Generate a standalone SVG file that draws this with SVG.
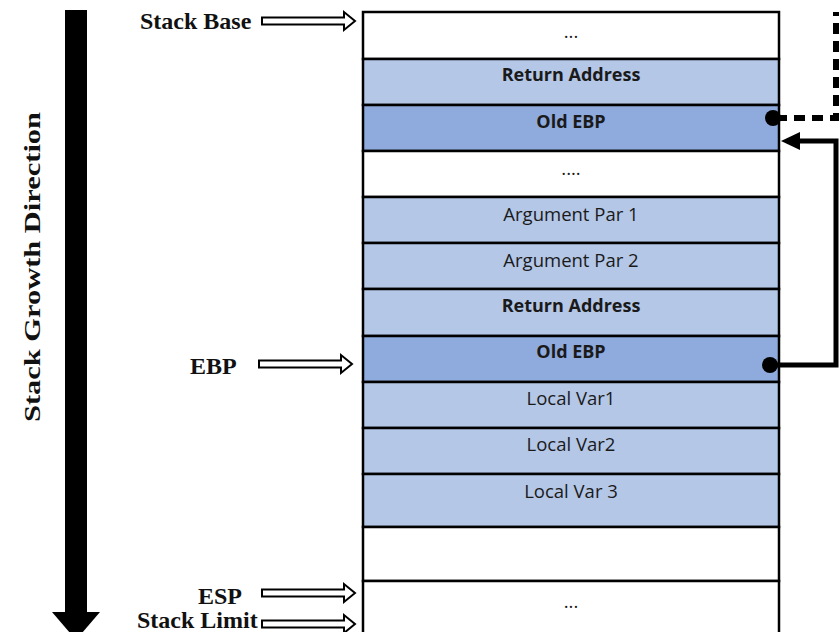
<svg xmlns="http://www.w3.org/2000/svg" width="839" height="632" viewBox="0 0 839 632">
<style>
.row{stroke:#000;stroke-width:2.5}
.w{fill:#fff}
.l{fill:#b4c7e7}
.d{fill:#8faadc}
.t{font-family:"Open Sans","Liberation Sans",sans-serif;font-size:18.5px;text-anchor:middle;fill:#1a1a1a}
.b{font-weight:bold;font-size:18px}
.lab{font-family:"Liberation Serif",serif;font-weight:bold;font-size:24px;fill:#111}
.ha{fill:#fff;stroke:#000;stroke-width:2}
</style>
<defs>
<path id="hollow" d="M0,-3.5 H82 V-9 L93,0 L82,9 V3.5 H0 Z"/>
</defs>
<g id="growth">
<rect x="65" y="10" width="22" height="604" fill="#000"/>
<polygon points="52,612 100,612 76,640" fill="#000"/>
<text class="lab" font-size="33" transform="translate(40,267) rotate(-90)" text-anchor="middle" textLength="310" lengthAdjust="spacingAndGlyphs">Stack Growth Direction</text>
</g>
<g id="stack">
<rect class="row w" x="363" y="12" width="416" height="47"/>
<rect class="row l" x="363" y="59" width="416" height="46"/>
<rect class="row d" x="363" y="105" width="416" height="46"/>
<rect class="row w" x="363" y="151" width="416" height="46"/>
<rect class="row l" x="363" y="197" width="416" height="46"/>
<rect class="row l" x="363" y="243" width="416" height="46"/>
<rect class="row l" x="363" y="289" width="416" height="47"/>
<rect class="row d" x="363" y="336" width="416" height="46"/>
<rect class="row l" x="363" y="382" width="416" height="46"/>
<rect class="row l" x="363" y="428" width="416" height="46"/>
<rect class="row l" x="363" y="474" width="416" height="53"/>
<rect class="row w" x="363" y="527" width="416" height="54"/>
<rect class="row w" x="363" y="581" width="416" height="60"/>
<text class="t" x="571" y="38">...</text>
<text class="t b" x="571" y="81">Return Address</text>
<text class="t b" x="571" y="128">Old EBP</text>
<text class="t" x="571" y="175">....</text>
<text class="t" x="571" y="221">Argument Par 1</text>
<text class="t" x="571" y="267">Argument Par 2</text>
<text class="t b" x="571" y="312">Return Address</text>
<text class="t b" x="571" y="358">Old EBP</text>
<text class="t" x="571" y="405">Local Var1</text>
<text class="t" x="571" y="451">Local Var2</text>
<text class="t" x="571" y="498">Local Var 3</text>
<text class="t" x="571" y="608">...</text>
</g>
<g id="labels">
<text class="lab" x="140" y="29">Stack Base</text>
<text class="lab" x="190" y="374">EBP</text>
<text class="lab" x="198" y="604">ESP</text>
<text class="lab" x="137" y="628">Stack Limit</text>
</g>
<g id="connectors">
<use href="#hollow" class="ha" x="262" y="21"/>
<use href="#hollow" class="ha" x="259" y="364"/>
<use href="#hollow" class="ha" x="262" y="593"/>
<use href="#hollow" class="ha" x="262" y="624"/>
<path d="M776,118 H836 V12" fill="none" stroke="#000" stroke-width="6" stroke-dasharray="11 7"/>
<circle cx="773" cy="118" r="8" fill="#000"/>
<path d="M770,365 H836 V141 H796" fill="none" stroke="#000" stroke-width="5"/>
<polygon points="781,141 800,132 800,150" fill="#000"/>
<circle cx="770" cy="365" r="8" fill="#000"/>
</g>
</svg>
